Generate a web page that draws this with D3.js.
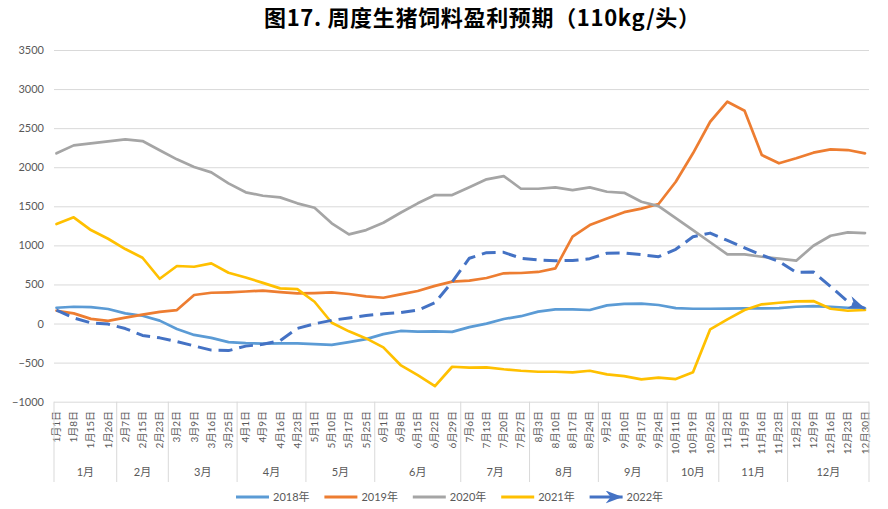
<!DOCTYPE html>
<html><head><meta charset="utf-8">
<script src="https://cdn.jsdelivr.net/npm/d3@7"></script>
<style>
body{margin:0;background:#fff;}
svg text{font-family:Lato,"Noto Sans CJK SC",sans-serif;}
</style></head><body>
<svg id="chart" width="888" height="509"></svg>
<script>
const categories = ["1月1日","1月8日","1月15日","1月26日","2月7日","2月15日","2月23日","3月2日","3月9日","3月16日","3月25日","4月1日","4月9日","4月16日","4月23日","5月1日","5月10日","5月17日","5月25日","6月1日","6月8日","6月15日","6月22日","6月29日","7月6日","7月13日","7月20日","7月27日","8月3日","8月10日","8月17日","8月24日","9月2日","9月10日","9月17日","9月24日","10月11日","10月19日","10月26日","11月2日","11月9日","11月16日","11月23日","12月2日","12月9日","12月16日","12月23日","12月30日"];
const s2018 = [202,215,211,186,130,100,37,-70,-146,-183,-238,-251,-257,-254,-255,-263,-273,-238,-199,-135,-95,-104,-99,-107,-46,-1,58,94,152,182,182,173,233,252,254,237,198,189,189,192,194,194,198,215,224,213,202,194];
const s2019 = [164,130,60,35,75,115,150,172,365,394,400,410,422,403,385,390,398,378,348,330,373,416,482,537,550,583,643,647,660,706,1111,1260,1345,1425,1470,1530,1814,2178,2582,2838,2723,2156,2050,2114,2186,2229,2220,2178];
const s2020 = [2178,2280,2305,2330,2357,2335,2218,2101,2002,1934,1794,1679,1635,1614,1538,1482,1282,1141,1196,1290,1418,1538,1644,1644,1743,1845,1887,1725,1725,1743,1708,1743,1686,1673,1558,1503,1349,1194,1040,885,885,855,830,804,995,1123,1167,1158];
const s2021 = [1273,1359,1196,1085,953,842,573,736,727,770,650,590,520,450,441,279,10,-100,-190,-305,-531,-659,-800,-553,-565,-560,-585,-604,-617,-617,-624,-604,-650,-672,-714,-693,-710,-624,-74,54,173,246,266,284,288,189,164,173];
const s2022 = [173,72,9,-7,-64,-152,-183,-232,-286,-340,-346,-289,-266,-219,-62,-3,41,72,103,124,139,171,266,533,836,907,911,836,813,804,806,830,900,903,881,855,950,1110,1157,1064,968,876,795,655,660,474,280,194];
const yTicks = [-1000,-500,0,500,1000,1500,2000,2500,3000,3500];
const seriesNames = ["2018年","2019年","2020年","2021年","2022年"];
const seriesColors = ["#5B9BD5","#ED7D31","#A5A5A5","#FFC000","#4472C4"];
const titleText = "图17. 周度生猪饲料盈利预期（110kg/头）";

const seriesList = [s2018,s2019,s2020,s2021,s2022];
const svg = d3.select("#chart");
const plot = {left:54, right:869, top:50, bottom:401.7};
const x = d3.scalePoint().domain(d3.range(categories.length)).range([56.5, 865]);
const y = d3.scaleLinear().domain([-1000,3500]).range([plot.bottom, plot.top]);

svg.append("rect").attr("width",888).attr("height",509).attr("fill","#fff");

// title
svg.append("text").attr("x",264).attr("y",26).attr("text-anchor","start")
  .attr("font-size",22).attr("font-weight","bold").attr("fill","#000")
  .attr("textLength",436).attr("lengthAdjust","spacing")
  .style("font-family","'Noto Sans CJK SC',sans-serif").text(titleText);

// y grid + labels
const gy = svg.append("g").attr("transform",`translate(${plot.left},0)`)
  .call(d3.axisLeft(y).tickValues(yTicks).tickSize(-(plot.right-plot.left)).tickPadding(10).tickFormat(d3.format("d")));
gy.select(".domain").remove();
gy.selectAll(".tick line").attr("stroke","#d9d9d9").attr("stroke-width",1);
gy.selectAll(".tick text").attr("fill","#595959").attr("font-size",11);

// category labels
const gx = svg.append("g");
gx.selectAll("text.cat").data(categories).join("text").attr("class","cat")
  .attr("transform",(d,i)=>`translate(${x(i)+3.5},411) rotate(-90)`)
  .attr("text-anchor","end").attr("font-size",10).attr("fill","#595959").text(d=>d);

// month groups
const monthOf = categories.map(c=>c.split("月")[0]+"月");
const months = Array.from(new Set(monthOf));
const bounds = [plot.left];
months.forEach((m,k)=>{
  const last = monthOf.lastIndexOf(m);
  if(k<months.length-1) bounds.push((x(last)+x(last+1))/2);
});
bounds.push(plot.right);
gx.selectAll("line.sep").data(bounds).join("line").attr("class","sep")
  .attr("x1",d=>d).attr("x2",d=>d).attr("y1",plot.bottom).attr("y2",482)
  .attr("stroke","#d9d9d9").attr("stroke-width",1);
gx.selectAll("text.month").data(months).join("text").attr("class","month")
  .attr("x",(d,k)=>(bounds[k]+bounds[k+1])/2).attr("y",476)
  .attr("text-anchor","middle").attr("font-size",11).attr("fill","#595959").text(d=>d);

// arrow marker
const defs = svg.append("defs");
defs.append("marker").attr("id","arrow").attr("viewBox","0 0 10 10")
  .attr("refX",10).attr("refY",5).attr("markerUnits","userSpaceOnUse")
  .attr("markerWidth",17).attr("markerHeight",13).attr("orient","auto")
  .attr("preserveAspectRatio","none")
  .append("path").attr("d","M0,0 L10,5 L0,10 L3,5 Z").attr("fill",seriesColors[4]);

// lines
const line = d3.line().x((d,i)=>x(i)).y(d=>y(d));
seriesList.forEach((s,k)=>{
  const p = svg.append("path").datum(s).attr("d",line).attr("fill","none")
    .attr("stroke",seriesColors[k]).attr("stroke-width",k===4?3:2.7)
    .attr("stroke-linejoin","round").attr("stroke-linecap",k===4?"butt":"round");
  if(k===4){ p.attr("stroke-dasharray","14,7").attr("marker-end","url(#arrow)"); }
});

// legend
const lg = svg.append("g");
seriesNames.forEach((n,k)=>{
  const x0 = 236 + k*88.4;
  const l = lg.append("line").attr("x1",x0).attr("x2",x0+33).attr("y1",497).attr("y2",497)
    .attr("stroke",seriesColors[k]).attr("stroke-width",3);
  if(k===4) l.attr("marker-end","url(#arrow)");
  lg.append("text").attr("x",x0+37).attr("y",497).attr("dy","0.35em")
    .attr("font-size",11).attr("fill","#595959").text(n);
});
</script>
</body></html>
